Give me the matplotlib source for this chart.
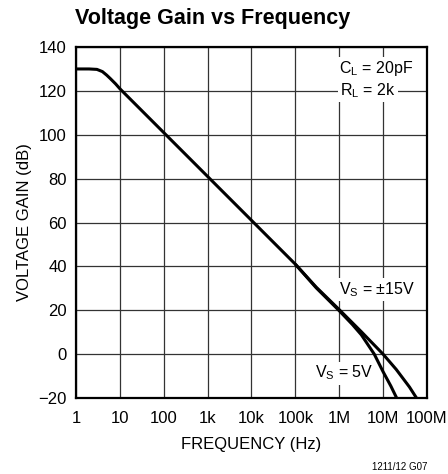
import numpy as np
import matplotlib
matplotlib.use('Agg')
import matplotlib.pyplot as plt

plt.rcParams.update({
    'font.family': ['Liberation Sans', 'DejaVu Sans'],
    'mathtext.default': 'regular',
    'font.size': 11,
})

# Data (frequency in Hz, gain in dB)
freq_15v = [1, 2, 3, 4, 5, 6, 8, 10, 100, 1e3, 1e4, 1e5, 3e5, 1e6, 3.2e6, 1e7, 2e7, 4e7, 6e7]
gain_15v = [130, 130, 129.8, 128.8, 127.2, 125.7, 123.2, 121, 101, 81, 61, 41, 30.5, 20.3, 10.2, 0, -7, -15, -20.5]

freq_5v = [1e5, 3e5, 1e6, 2e6, 3.2e6, 5e6, 6.3e6, 1e7, 1.5e7, 2.1e7]
gain_5v = [41, 30.2, 19.8, 13.5, 8.8, 3, 0, -8, -14.5, -20.5]

x_ticks = [1, 10, 100, 1e3, 1e4, 1e5, 1e6, 1e7, 1e8]
x_labels = ['1', '10', '100', '1k', '10k', '100k', '1M', '10M', '100M']
y_ticks = [-20, 0, 20, 40, 60, 80, 100, 120, 140]
y_labels = ['\u221220', '0', '20', '40', '60', '80', '100', '120', '140']

fig = plt.figure(figsize=(4.48, 4.74), dpi=100)
ax = fig.add_axes([0.1696, 0.1603, 0.7834, 0.7405])

ax.semilogx(freq_15v, gain_15v, color='black', linewidth=2.2, solid_capstyle='butt', zorder=3)
ax.semilogx(freq_5v, gain_5v, color='black', linewidth=2.2, solid_capstyle='butt', zorder=3)

ax.set_xlim(1, 1e8)
ax.set_ylim(-20, 140)
ax.set_xticks(x_ticks)
ax.set_xticklabels(x_labels)
ax.set_yticks(y_ticks)
ax.set_yticklabels(y_labels)
ax.minorticks_off()
ax.tick_params(length=0, labelsize=12)
ax.tick_params(axis='x', pad=9)
ax.tick_params(axis='y', pad=6.5)
ax.grid(True, color='#333333', linewidth=0.9)
ax.set_axisbelow(True)
for s in ax.spines.values():
    s.set_linewidth(1.6)

ax.set_xlabel('FREQUENCY (Hz)', fontsize=12, labelpad=8)
ax.set_ylabel('VOLTAGE GAIN (dB)', fontsize=12, labelpad=5)

box = dict(facecolor='white', edgecolor='none', pad=1.5)
ax.text(0.75, 0.94, 'C$_L$ = 20pF', transform=ax.transAxes, ha='left',
        va='center', fontsize=11.5, bbox=box, zorder=2)
ax.text(0.752, 0.877, 'R$_L$ = 2k', transform=ax.transAxes, ha='left',
        va='center', fontsize=11.5, bbox=box, zorder=2)
ax.text(0.859, 0.308, 'V$_S$ = \u00b115V', transform=ax.transAxes, ha='center',
        va='center', fontsize=11.5, bbox=box, zorder=2)
ax.text(0.764, 0.071, 'V$_S$ = 5V', transform=ax.transAxes, ha='center',
        va='center', fontsize=11.5, bbox=box, zorder=2)

fig.text(0.475, 0.962, 'Voltage Gain vs Frequency', ha='center', va='center',
         fontsize=15.5, fontweight='bold')
fig.text(0.893, 0.015, '1211/12 G07', ha='center', va='center', fontsize=7)

fig.savefig('out.png', dpi=100)
